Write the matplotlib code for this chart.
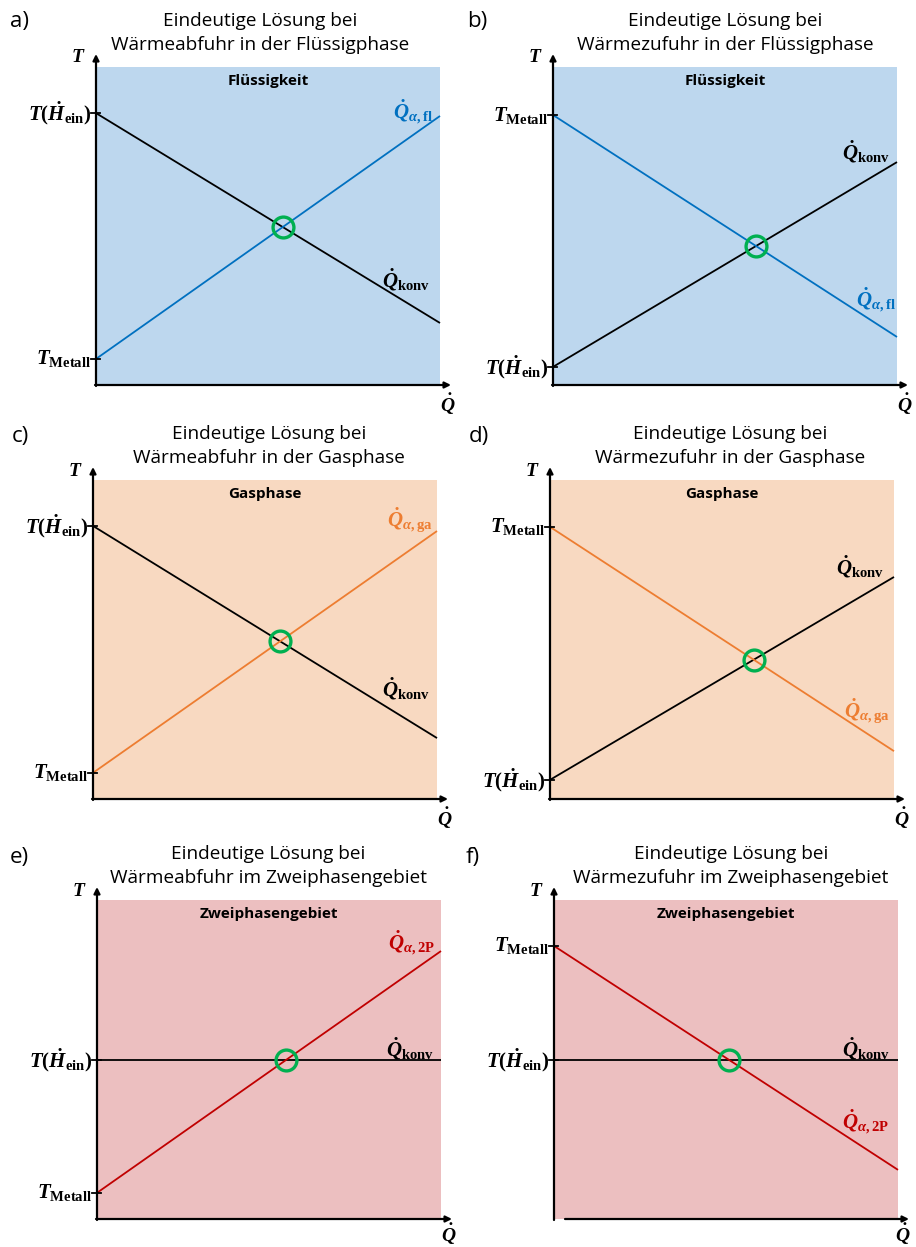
import matplotlib
matplotlib.use("Agg")
import matplotlib.pyplot as plt
import numpy as np

plt.rcParams['mathtext.fontset'] = 'custom'
plt.rcParams['mathtext.rm'] = 'Liberation Serif:bold'
plt.rcParams['mathtext.it'] = 'Liberation Serif:italic:bold'
plt.rcParams['mathtext.bf'] = 'Liberation Serif:bold'

W, H = 916, 1247

# panel data (normalised T at Q=0 and Q=max)
letters = ['a)', 'b)', 'c)', 'd)', 'e)', 'f)']
titles = ['Eindeutige Lösung bei\nWärmeabfuhr in der Flüssigphase',
          'Eindeutige Lösung bei\nWärmezufuhr in der Flüssigphase',
          'Eindeutige Lösung bei\nWärmeabfuhr in der Gasphase',
          'Eindeutige Lösung bei\nWärmezufuhr in der Gasphase',
          'Eindeutige Lösung bei\nWärmeabfuhr im Zweiphasengebiet',
          'Eindeutige Lösung bei\nWärmezufuhr im Zweiphasengebiet']
phases = ['Flüssigkeit', 'Flüssigkeit', 'Gasphase', 'Gasphase',
          'Zweiphasengebiet', 'Zweiphasengebiet']
konv_start = [0.855, 0.057, 0.856, 0.060, 0.498, 0.498]
konv_end = [0.195, 0.701, 0.191, 0.696, 0.498, 0.498]
alpha_start = [0.082, 0.849, 0.082, 0.853, 0.082, 0.856]
alpha_end = [0.846, 0.151, 0.840, 0.150, 0.840, 0.154]
alpha_names = [r'$\dot{Q}_{\alpha,\mathrm{fl}}$', r'$\dot{Q}_{\alpha,\mathrm{fl}}$',
               r'$\dot{Q}_{\alpha,\mathrm{ga}}$', r'$\dot{Q}_{\alpha,\mathrm{ga}}$',
               r'$\dot{Q}_{\alpha,\mathrm{2P}}$', r'$\dot{Q}_{\alpha,\mathrm{2P}}$']
konv_name = r'$\dot{Q}_{\mathrm{konv}}$'
t_ein = r'$T(\dot{H}_{\mathrm{ein}})$'
t_met = r'$T_{\mathrm{Metall}}$'
konv_lbl = [(0.90, 0.33), (0.91, 0.735), (0.91, 0.345), (0.90, 0.727), (0.91, 0.535), (0.907, 0.535)]
alpha_lbl = [(0.92, 0.86), (0.94, 0.27), (0.92, 0.872), (0.92, 0.276), (0.915, 0.866), (0.907, 0.305)]

fills = ['#bdd7ee', '#bdd7ee', '#f8d9c1', '#f8d9c1', '#ecbfc0', '#ecbfc0']
lcols = ['#0070c0', '#0070c0', '#ed7d31', '#ed7d31', '#c00000', '#c00000']

# shaded plot areas in pixels: x0, x1, top, bottom
boxes = [(96, 440, 67, 385), (553, 897, 67, 385),
         (93, 437, 480, 799), (550, 894, 480, 799),
         (97, 441, 900, 1219), (554, 898, 900, 1219)]
title_x = [260, 725, 269, 730, 268, 731]
letter_pos = [(10, 22), (467, 22), (12, 437), (469, 437), (10, 857), (466, 857)]

fig = plt.figure(figsize=(W / 100, H / 100), dpi=100)
fig.patch.set_facecolor('white')

for i in range(6):
    x0, x1, y0, y1 = boxes[i]
    ax = fig.add_axes([x0 / W, 1 - y1 / H, (x1 - x0) / W, (y1 - y0) / H])
    ax.set_xlim(0, 1)
    ax.set_ylim(0, 1)
    ax.set_facecolor(fills[i])
    for s in ax.spines.values():
        s.set_visible(False)
    ax.set_xticks([])
    ax.set_yticks([])
    pw, ph = x1 - x0, y1 - y0

    # axes with arrows
    ax.annotate('', xy=(0, 1 + 13 / ph), xytext=(0, -1 / ph), xycoords='axes fraction',
                arrowprops=dict(arrowstyle='-|>', lw=1.6, color='black',
                                mutation_scale=9, shrinkA=0, shrinkB=0),
                annotation_clip=False)
    xs = 11 / pw if i == 5 else -1 / pw
    ax.annotate('', xy=(1 + 11 / pw, 0), xytext=(xs, 0), xycoords='axes fraction',
                arrowprops=dict(arrowstyle='-|>', lw=1.6, color='black',
                                mutation_scale=9, shrinkA=0, shrinkB=0),
                annotation_clip=False)

    # lines
    ax.plot([0, 1], [konv_start[i], konv_end[i]], color='black', lw=1.3,
            clip_on=False, solid_capstyle='butt')
    ax.plot([0, 1], [alpha_start[i], alpha_end[i]], color=lcols[i], lw=1.3,
            clip_on=False, solid_capstyle='butt')

    # intersection
    sk = konv_end[i] - konv_start[i]
    sa = alpha_end[i] - alpha_start[i]
    xi = (alpha_start[i] - konv_start[i]) / (sk - sa)
    yi = konv_start[i] + sk * xi
    ax.plot([xi], [yi], 'o', ms=15, mfc='none', mec='#00b050', mew=2.4, zorder=5)

    # ticks on T axis
    for tv in [konv_start[i], alpha_start[i]]:
        ax.plot([-5 / pw, 4 / pw], [tv, tv], color='black', lw=1.3, clip_on=False)
    ax.text(-5 / pw, konv_start[i], t_ein, ha='right', va='center', fontsize=15)
    ax.text(-5 / pw, alpha_start[i], t_met, ha='right', va='center', fontsize=15)

    # axis names
    ax.text(-18 / pw, 1 + 10 / ph, r'$T$', ha='center', va='center', fontsize=14)
    qy = -15 if i >= 4 else -19
    qx = 1 + (5 if i == 5 else 8) / pw
    ax.text(qx, qy / ph, r'$\dot{Q}$', ha='center', va='center', fontsize=14)

    # phase name
    ax.text(0.5, 1 - 14 / ph, phases[i], ha='center', va='center', fontsize=11,
            fontweight='bold', family='Open Sans')

    # curve labels
    ax.text(konv_lbl[i][0], konv_lbl[i][1], konv_name, ha='center', va='center',
            fontsize=15, color='black')
    ax.text(alpha_lbl[i][0], alpha_lbl[i][1], alpha_names[i], ha='center', va='center',
            fontsize=15, color=lcols[i])

    # title
    fig.text(title_x[i] / W, 1 - (y0 - 34) / H, titles[i], ha='center', va='center',
             fontsize=13.7, family='Open Sans', linespacing=1.4)

    fig.text(letter_pos[i][0] / W, 1 - letter_pos[i][1] / H, letters[i],
             ha='left', va='center', fontsize=16, family='Open Sans')

fig.savefig('out.png', dpi=100)
